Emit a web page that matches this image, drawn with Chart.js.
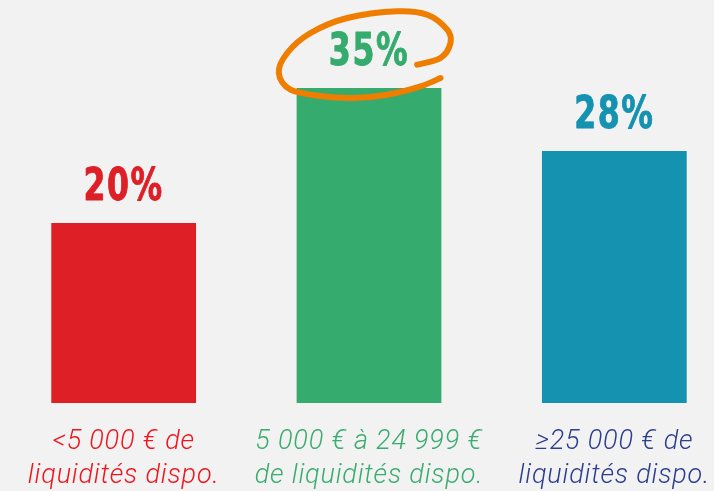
<!DOCTYPE html>
<html lang="fr">
<head>
<meta charset="utf-8">
<script src="https://cdn.jsdelivr.net/npm/chart.js@4.4.1/dist/chart.umd.min.js"></script>
<style>
    html, body { margin: 0; padding: 0; background: #f2f2f2; overflow: hidden; }
    #wrap { width: 737px; height: 491px; }
</style>
</head>
<body>
<div id="wrap"><canvas id="myChart"></canvas></div>
<script>
const categories = [
    ['<5 000 € de', 'liquidités dispo.'],
    ['5 000 € à 24 999 €', 'de liquidités dispo.'],
    ['≥25 000 € de', 'liquidités dispo.']
];
const values = [20, 35, 28];
const barColors = ['#de1f26', '#36ab6e', '#1592b0'];
const labelColors = ['#f0151c', '#3aac6e', '#2d3e8e'];
const highlightIndex = 1;

// relative trace of the hand-drawn circle, from bar centre / bar top
const loopTrace = [
    [71.5, -10], [51.5, -1.7], [18.2, 6.7], [-15.5, 10], [-48.5, 8], [-78.5, 1.7],
    [-90.2, -15], [-81.8, -35], [-58.5, -55], [-21.8, -70], [28.2, -76.7],
    [58.2, -73.3], [78.2, -58.3], [81.5, -45], [71.5, -30], [48.2, -23.3]
];

// a bit of tracking for the axis labels
const spacing = {
    id: 'spacing',
    beforeDraw(chart) {
        chart.ctx.letterSpacing = '0.8px';
    }
};

const valueLabels = {
    id: 'valueLabels',
    afterDatasetsDraw(chart) {
        const ctx = chart.ctx;
        const meta = chart.getDatasetMeta(0);
        ctx.save();
        ctx.letterSpacing = '2px';
        ctx.font = 'bold 45px "DejaVu Sans Condensed", "DejaVu Sans", sans-serif';
        ctx.textAlign = 'center';
        ctx.textBaseline = 'alphabetic';
        ctx.lineJoin = 'round';
        meta.data.forEach((bar, i) => {
            ctx.save();
            ctx.translate(bar.x, bar.y - 23);
            ctx.scale(0.78, 1); // squeeze to look like a condensed face
            ctx.fillStyle = barColors[i];
            ctx.strokeStyle = barColors[i];
            ctx.lineWidth = 0.9;
            ctx.fillText(values[i] + '%', 0, 0);
            ctx.strokeText(values[i] + '%', 0, 0);
            ctx.restore();
        });

        // orange loop around the highlighted value
        const hb = meta.data[highlightIndex];
        const pts = loopTrace.map(p => [hb.x + p[0], hb.y + p[1]]);
        ctx.strokeStyle = '#ee7d00';
        ctx.lineWidth = 6;
        ctx.lineCap = 'round';
        ctx.lineJoin = 'round';
        ctx.beginPath();
        ctx.moveTo(pts[0][0], pts[0][1]);
        for (let i = 0; i < pts.length - 1; i++) {
            const p0 = pts[Math.max(i - 1, 0)];
            const p1 = pts[i];
            const p2 = pts[i + 1];
            const p3 = pts[Math.min(i + 2, pts.length - 1)];
            ctx.bezierCurveTo(
                p1[0] + (p2[0] - p0[0]) / 6, p1[1] + (p2[1] - p0[1]) / 6,
                p2[0] - (p3[0] - p1[0]) / 6, p2[1] - (p3[1] - p1[1]) / 6,
                p2[0], p2[1]
            );
        }
        ctx.stroke();
        ctx.restore();
    }
};

const ctx = document.getElementById('myChart').getContext('2d');
new Chart(ctx, {
    type: 'bar',
    data: {
        labels: categories,
        datasets: [{
            data: values,
            backgroundColor: barColors,
            borderWidth: 0,
            barPercentage: 0.59,
            categoryPercentage: 1
        }]
    },
    options: {
        responsive: true,
        maintainAspectRatio: false,
        animation: false,
        layout: { padding: { top: 43, left: 1, right: 0, bottom: 0 } },
        plugins: {
            legend: { display: false },
            tooltip: { enabled: false }
        },
        scales: {
            x: {
                grid: { display: false, drawTicks: false },
                border: { display: false },
                ticks: {
                    padding: 22,
                    color: labelColors,
                    font: { family: 'Roboto, "Liberation Sans", sans-serif', size: 27, style: 'italic', weight: '300', lineHeight: 1.26 },
                    maxRotation: 0,
                    autoSkip: false
                },
                afterFit(axis) { axis.height = 88; }
            },
            y: {
                display: false,
                min: 0,
                max: 40
            }
        }
    },
    plugins: [spacing, valueLabels]
});
</script>
</body>
</html>
